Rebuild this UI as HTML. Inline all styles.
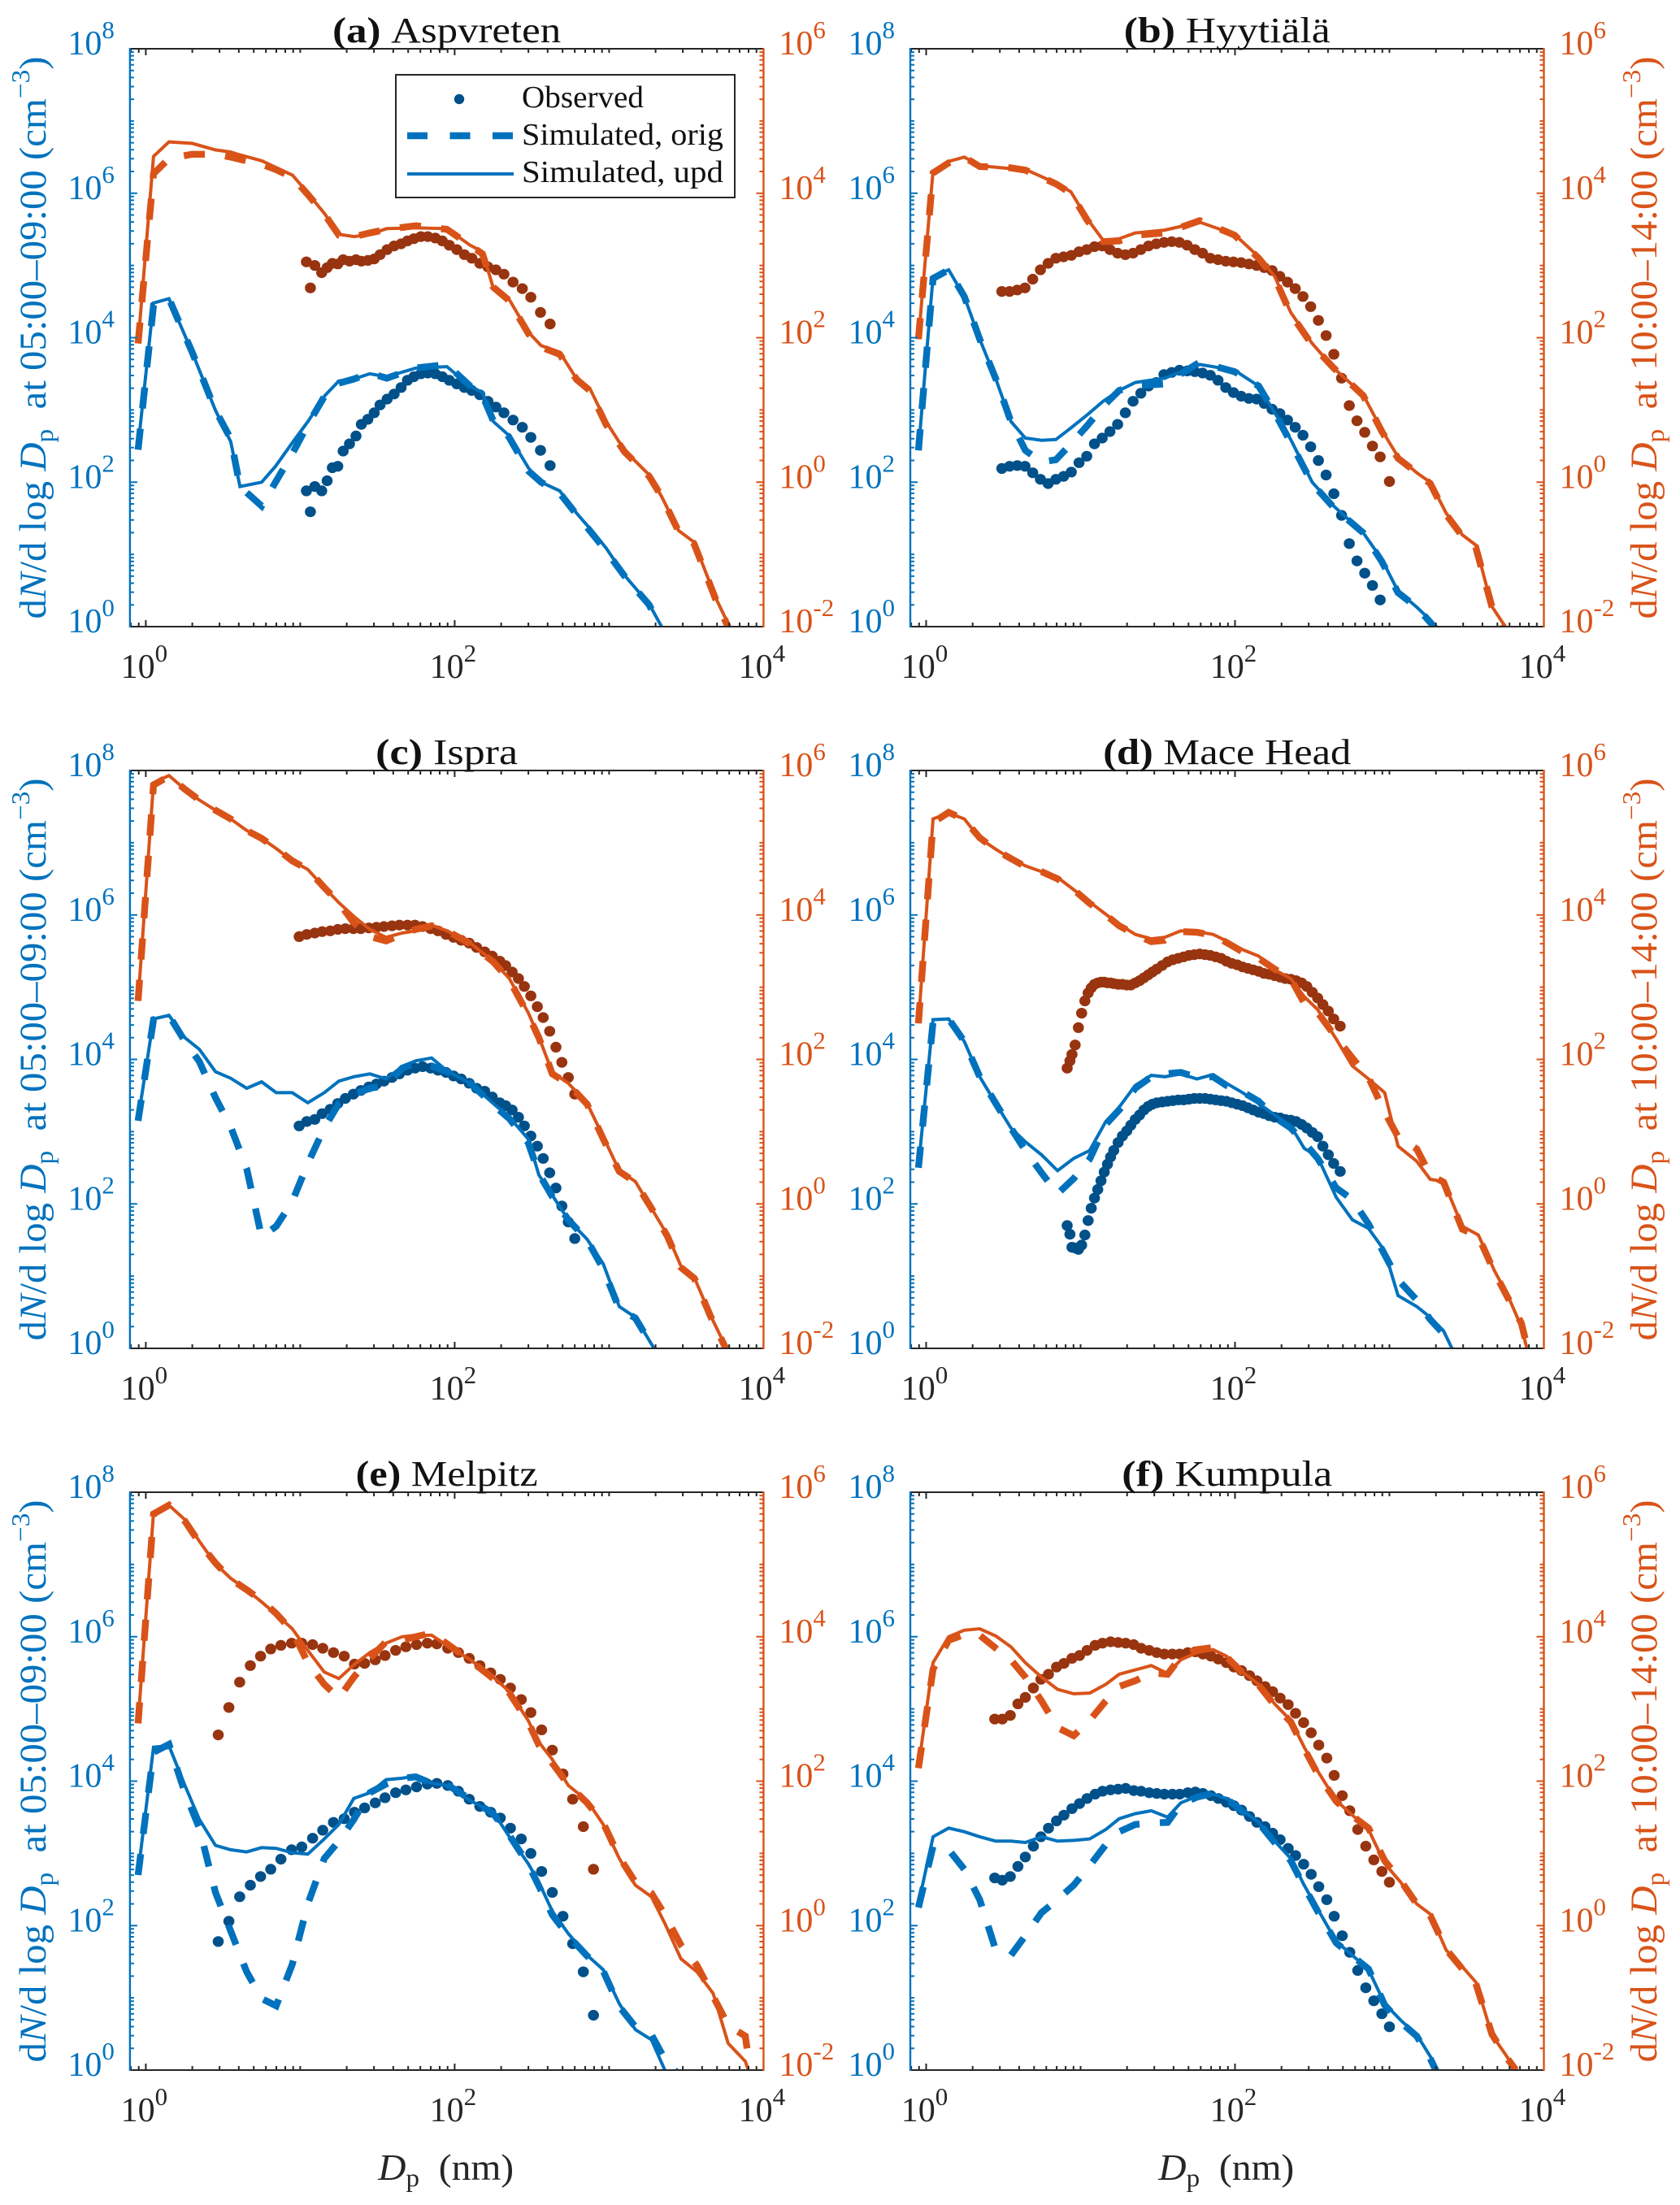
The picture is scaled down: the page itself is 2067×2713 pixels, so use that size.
<!DOCTYPE html>
<html lang="en">
<head>
<meta charset="utf-8">
<title>Particle number size distributions at six sites</title>
<style>
html,body{margin:0;padding:0;background:#fff;}
svg{display:block;}
text{font-family:"Liberation Serif",serif;}
</style>
</head>
<body>
<svg id="chart" xmlns="http://www.w3.org/2000/svg" width="2067" height="2713" viewBox="0 0 2067 2713"><rect width="2067" height="2713" fill="#fff"/></svg>
<script>
/* All series values are log10 of the plotted quantity. Blue series use the left axis, orange the right axis. */
const xTickExponents = [0, 2, 4];
const leftTickExponents = [0, 2, 4, 6, 8];
const rightTickExponents = [-2, 0, 2, 4, 6];
const minorMultipliers = [2, 3, 4, 5, 6, 7, 8, 9];

/* (a) Aspvreten */
const aSimLogDp = [-0.05,0.05,0.15,0.3,0.45,0.55,0.61,0.75,0.84,0.95,1.05,1.16,1.25,1.35,1.45,1.56,1.75,1.95,2.1,2.18,2.25,2.35,2.48,2.56,2.68,2.79,2.875,2.98,3.1,3.26,3.34,3.45,3.55,3.69,3.78];
const aBlueUpd = [2.5,4.48,4.54,3.8,3.0,2.56,1.94,2.0,2.22,2.55,2.84,3.2,3.4,3.43,3.5,3.46,3.58,3.6,3.33,3.24,2.84,2.65,2.19,2.0,1.88,1.57,1.36,1.09,0.71,0.31,0,-0.5,null,null,null];
const aBlueOrig = [2.45,4.45,4.54,3.8,3.0,2.6,1.94,1.67,2.0,2.4,2.8,3.2,3.37,3.43,3.51,3.44,3.58,3.63,3.33,3.2,2.85,2.63,2.15,2.0,1.85,1.55,1.33,1.05,0.7,0.3,-0.05,-0.5,null,null,null];
const aOrangeUpd = [1.92,4.51,4.71,4.69,4.6,4.57,4.53,4.45,4.36,4.25,4.0,3.71,3.43,3.4,3.43,3.51,3.52,3.51,3.28,3.19,2.69,2.54,2.07,1.89,1.8,1.43,1.3,0.84,0.44,0.1,-0.2,-0.67,-0.83,-1.6,-2];
const aOrangeOrig = [1.92,4.27,4.48,4.54,4.54,4.5,4.47,4.4,4.33,4.22,3.98,3.7,3.42,3.4,3.45,3.5,3.55,3.5,3.28,3.16,2.7,2.52,2.05,1.87,1.77,1.42,1.27,0.8,0.42,0.08,-0.2,-0.68,-0.85,-1.62,-2.05];
const aObsLogDp = [1.04,1.066,1.094,1.139,1.174,1.208,1.243,1.278,1.319,1.361,1.396,1.438,1.479,1.517,1.5625,1.608,1.653,1.694,1.736,1.781,1.826,1.875,1.92,1.965,2.014,2.063,2.111,2.163,2.215,2.267,2.319,2.378,2.438,2.493,2.556,2.618];
const aObsBlue = [1.88,1.59,1.94,1.88,2.02,2.2,2.22,2.43,2.53,2.64,2.8,2.87,2.96,3.07,3.15,3.22,3.31,3.41,3.46,3.5,3.51,3.5,3.46,3.41,3.36,3.31,3.27,3.21,3.12,3.04,2.96,2.86,2.76,2.62,2.44,2.23];
const aObsOrange = [3.05,2.69,3.0,2.9,2.97,3.03,3.02,3.08,3.06,3.08,3.06,3.07,3.09,3.15,3.22,3.27,3.3,3.34,3.37,3.4,3.4,3.38,3.34,3.28,3.22,3.15,3.1,3.03,2.98,2.94,2.88,2.77,2.68,2.56,2.35,2.19];

/* (b) Hyytiala */
const bSimLogDp = [-0.05,0.045,0.146,0.247,0.347,0.451,0.549,0.642,0.747,0.84,0.9375,1.042,1.146,1.25,1.354,1.545,1.771,1.997,2.153,2.257,2.361,2.5,2.639,2.83,2.951,3.056,3.177,3.264,3.368,3.472,3.559,3.663,3.75];
const bBlueUpd = [2.44,4.85,4.94,4.57,3.98,3.43,2.84,2.61,2.58,2.59,2.75,2.93,3.12,3.27,3.38,3.44,3.63,3.55,3.33,2.96,2.59,2.0,1.67,1.3,0.93,0.49,0.27,0.09,-0.2,null,null,null,null];
const bBlueOrig = [2.44,4.82,4.94,4.57,3.98,3.43,2.84,2.44,2.28,2.31,2.53,2.78,3.05,3.27,3.34,3.36,3.66,3.53,3.33,2.96,2.55,1.98,1.65,1.3,0.9,0.47,0.27,0.06,-0.2,null,null,null,null];
const bOrangeUpd = [1.98,4.31,4.44,4.5,4.38,4.36,4.34,4.33,4.23,4.14,4.02,3.65,3.35,3.37,3.45,3.49,3.6,3.43,3.12,2.85,2.35,1.92,1.58,1.21,0.72,0.35,0.13,0,-0.43,-0.73,-0.87,-1.72,-2];
const bOrangeOrig = [1.98,4.28,4.42,4.5,4.37,4.36,4.35,4.32,4.22,4.13,4.0,3.63,3.33,3.34,3.42,3.45,3.62,3.42,3.1,2.83,2.33,1.9,1.58,1.2,0.7,0.33,0.13,-0.02,-0.45,-0.75,-0.9,-1.72,-2.05];
const bObsLogDp = [0.49,0.54,0.59,0.64,0.69,0.74,0.79,0.84,0.89,0.94,0.99,1.04,1.09,1.14,1.19,1.24,1.29,1.34,1.39,1.44,1.49,1.54,1.59,1.64,1.69,1.74,1.79,1.84,1.89,1.94,1.99,2.04,2.09,2.14,2.19,2.24,2.29,2.34,2.39,2.44,2.49,2.54,2.59,2.64,2.69,2.74,2.79,2.84,2.89,2.94,3.0];
const bObsBlue = [2.19,2.22,2.23,2.22,2.13,2.04,1.98,2.04,2.08,2.14,2.27,2.36,2.53,2.61,2.7,2.8,2.96,3.12,3.23,3.33,3.38,3.49,3.52,3.55,3.54,3.53,3.51,3.48,3.41,3.31,3.24,3.19,3.16,3.15,3.09,3.01,2.95,2.86,2.76,2.65,2.49,2.3,2.1,1.84,1.54,1.15,0.91,0.74,0.57,0.37,null];
const bObsOrange = [2.64,2.64,2.66,2.69,2.81,2.94,3.03,3.1,3.12,3.14,3.19,3.22,3.26,3.27,3.22,3.17,3.15,3.17,3.22,3.27,3.3,3.32,3.33,3.32,3.28,3.22,3.17,3.1,3.08,3.06,3.05,3.04,3.02,3.0,2.97,2.93,2.85,2.77,2.68,2.57,2.43,2.24,2.03,1.77,1.44,1.06,0.85,0.69,0.5,0.35,0.01];

/* (c) Ispra */
const cSimLogDp = [-0.05,0.05,0.15,0.253,0.347,0.451,0.549,0.653,0.75,0.844,0.948,1.049,1.156,1.25,1.347,1.451,1.556,1.66,1.747,1.851,1.951,2.101,2.25,2.354,2.476,2.545,2.632,2.736,2.858,2.962,3.066,3.17,3.274,3.378,3.465,3.552,3.656,3.76];
const cBlueUpd = [3.17,4.56,4.61,4.3,4.14,3.83,3.74,3.6,3.69,3.54,3.54,3.4,3.54,3.7,3.76,3.8,3.73,3.9,3.98,4.02,3.84,3.67,3.39,3.2,2.9,2.4,2.12,1.78,1.51,1.17,0.58,0.43,0.06,-0.3,null,null,null,null];
const cBlueOrig = [3.15,4.55,4.61,4.25,3.97,3.47,3.07,2.49,1.54,1.69,2.03,2.56,3.05,3.39,3.52,3.6,3.64,3.88,3.95,3.91,3.83,3.67,3.37,3.18,2.85,2.42,2.1,1.78,1.5,1.1,0.55,0.42,0.05,-0.3,null,null,null,null];
const cOrangeUpd = [2.81,5.83,5.93,5.74,5.59,5.45,5.33,5.17,5.06,4.92,4.75,4.63,4.38,4.17,3.98,3.8,3.69,3.75,3.78,3.86,3.78,3.61,3.36,3.12,2.65,2.31,1.82,1.67,1.39,0.93,0.46,0.31,-0.06,-0.43,-0.86,-1.02,-1.54,-2];
const cOrangeOrig = [2.81,5.8,5.92,5.74,5.59,5.45,5.33,5.17,5.06,4.92,4.75,4.63,4.38,4.17,3.89,3.7,3.64,3.73,3.8,3.85,3.78,3.6,3.35,3.1,2.62,2.3,1.8,1.66,1.38,0.9,0.45,0.3,-0.06,-0.45,-0.88,-1.03,-1.55,-2.02];
const cObsLogDp = [0.993,1.042,1.094,1.142,1.194,1.243,1.292,1.344,1.392,1.444,1.493,1.542,1.594,1.642,1.694,1.743,1.792,1.844,1.892,1.944,1.993,2.042,2.094,2.142,2.194,2.243,2.292,2.33,2.372,2.413,2.451,2.493,2.535,2.573,2.615,2.656,2.694,2.736,2.778];
const cObsBlue = [3.08,3.14,3.17,3.25,3.31,3.39,3.46,3.52,3.57,3.62,3.66,3.7,3.75,3.8,3.85,3.88,3.9,3.88,3.85,3.82,3.77,3.73,3.67,3.6,3.56,3.48,3.4,3.36,3.3,3.2,3.08,2.94,2.8,2.63,2.43,2.22,1.97,1.75,1.52];
const cObsOrange = [3.7,3.73,3.75,3.77,3.78,3.8,3.81,3.81,3.81,3.82,3.83,3.84,3.85,3.86,3.86,3.86,3.84,3.81,3.78,3.73,3.69,3.65,3.61,3.55,3.49,3.43,3.36,3.3,3.21,3.12,3.01,2.88,2.73,2.58,2.39,2.17,1.96,1.75,1.52];

/* (d) Mace Head */
const dSimLogDp = [-0.05,0.045,0.146,0.247,0.347,0.451,0.549,0.642,0.747,0.851,0.955,1.059,1.163,1.25,1.354,1.458,1.545,1.649,1.753,1.858,1.944,2.049,2.153,2.257,2.361,2.448,2.535,2.656,2.76,2.865,2.969,3.056,3.177,3.264,3.351,3.472,3.576,3.681,3.767,3.854,3.906];
const dBlueUpd = [2.52,4.55,4.56,4.25,3.76,3.39,3.05,2.86,2.68,2.46,2.63,2.74,3.14,3.34,3.64,3.78,3.76,3.8,3.73,3.79,3.67,3.54,3.39,3.23,3.08,2.77,2.65,2.09,1.78,1.66,1.35,0.73,0.58,0.43,0.24,-0.3,null,null,null,null,null];
const dBlueOrig = [2.5,4.52,4.56,4.25,3.76,3.39,3.05,2.74,2.43,2.14,2.35,2.62,3.1,3.3,3.6,3.76,3.8,3.82,3.75,3.76,3.64,3.55,3.42,3.2,3.05,2.85,2.63,2.22,2.06,1.72,1.3,0.95,0.67,0.4,0.2,-0.3,null,null,null,null,null];
const dOrangeUpd = [2.5,5.33,5.41,5.33,5.06,4.91,4.78,4.68,4.6,4.52,4.35,4.18,4.01,3.87,3.73,3.67,3.69,3.78,3.77,3.73,3.64,3.52,3.43,3.24,3.12,2.87,2.69,2.28,1.91,1.73,1.54,0.8,0.59,0.34,0.31,-0.31,-0.43,-0.93,-1.27,-1.7,-2.13];
const dOrangeOrig = [2.5,5.28,5.42,5.32,5.07,4.9,4.78,4.67,4.6,4.5,4.35,4.16,4.0,3.85,3.73,3.63,3.65,3.77,3.76,3.72,3.62,3.49,3.4,3.25,3.12,2.78,2.65,2.3,2.02,1.75,1.27,0.93,0.76,0.4,0.3,-0.35,-0.45,-0.95,-1.3,-1.65,-2.1];
const dObsLogDp = [0.913,0.931,0.944,0.965,0.986,1.007,1.028,1.049,1.069,1.09,1.111,1.132,1.153,1.174,1.194,1.215,1.243,1.271,1.299,1.326,1.354,1.382,1.41,1.438,1.465,1.493,1.528,1.563,1.597,1.632,1.667,1.701,1.736,1.771,1.806,1.84,1.875,1.91,1.944,1.979,2.014,2.049,2.083,2.118,2.153,2.188,2.222,2.257,2.292,2.326,2.361,2.396,2.431,2.465,2.5,2.535,2.569,2.604,2.639,2.681];
const dObsBlue = [1.7,1.58,1.4,1.39,1.37,1.43,1.57,1.77,1.94,2.08,2.2,2.32,2.44,2.55,2.65,2.74,2.85,2.94,3.01,3.09,3.17,3.23,3.3,3.35,3.38,3.4,3.41,3.42,3.43,3.44,3.44,3.45,3.46,3.46,3.46,3.45,3.44,3.43,3.42,3.4,3.38,3.36,3.33,3.3,3.27,3.25,3.22,3.2,3.19,3.17,3.16,3.14,3.1,3.05,2.99,2.93,2.8,2.68,2.56,2.45];
const dObsOrange = [1.88,1.98,2.07,2.2,2.44,2.64,2.81,2.92,2.99,3.04,3.06,3.07,3.07,3.06,3.06,3.05,3.04,3.04,3.03,3.03,3.06,3.09,3.13,3.17,3.21,3.25,3.3,3.35,3.38,3.4,3.42,3.44,3.45,3.46,3.45,3.44,3.42,3.4,3.36,3.33,3.31,3.28,3.26,3.24,3.22,3.19,3.18,3.16,3.14,3.12,3.11,3.09,3.06,3.01,2.93,2.85,2.76,2.67,2.56,2.46];

/* (e) Melpitz */
const eSimLogDp = [-0.05,0.05,0.15,0.253,0.347,0.451,0.549,0.653,0.75,0.844,0.948,1.049,1.156,1.25,1.347,1.451,1.556,1.66,1.747,1.851,1.951,2.101,2.25,2.354,2.476,2.545,2.632,2.736,2.858,2.962,3.066,3.17,3.274,3.361,3.465,3.569,3.674,3.771,3.882,3.91];
const eBlueUpd = [2.73,4.47,4.49,3.94,3.47,3.11,3.05,3.02,3.08,3.07,3.01,2.99,3.2,3.4,3.76,3.84,4.02,4.04,4.07,3.97,3.94,3.73,3.57,3.23,2.86,2.6,2.2,1.89,1.59,1.39,0.92,0.56,0.42,0,-0.5,null,null,null,null,null];
const eBlueOrig = [2.7,4.4,4.51,3.84,3.35,2.46,1.93,1.36,0.99,0.89,1.46,2.3,2.93,3.17,3.47,3.84,3.96,4.04,4.06,3.97,3.95,3.75,3.55,3.25,2.85,2.55,2.15,1.86,1.58,1.37,0.88,0.6,0.49,0.15,-0.1,null,null,null,null,null];
const eOrangeUpd = [2.81,5.72,5.82,5.62,5.32,5.01,4.81,4.65,4.48,4.31,4.11,3.81,3.51,3.42,3.61,3.78,3.91,4.0,4.02,4.02,3.88,3.68,3.44,3.24,2.84,2.54,2.3,1.94,1.73,1.4,0.93,0.56,0.4,0.03,-0.46,-0.64,-0.94,-1.63,-1.88,-2.05];
const eOrangeOrig = [2.8,5.7,5.82,5.6,5.3,5.02,4.8,4.65,4.5,4.32,4.08,3.64,3.34,3.15,3.44,3.7,3.93,3.95,4.0,4.05,3.9,3.67,3.42,3.22,2.82,2.5,2.25,1.95,1.7,1.42,0.95,0.6,0.45,0.15,-0.27,-0.55,-0.98,-1.38,-1.53,-1.95];
const eObsLogDp = [0.469,0.538,0.608,0.677,0.743,0.809,0.875,0.944,1.01,1.08,1.146,1.215,1.285,1.351,1.417,1.486,1.549,1.618,1.684,1.753,1.823,1.885,1.955,2.024,2.094,2.163,2.233,2.295,2.361,2.431,2.493,2.563,2.632,2.701,2.764,2.833,2.899];
const eObsBlue = [1.78,2.06,2.4,2.56,2.68,2.78,2.92,3.05,3.09,3.21,3.32,3.43,3.48,3.57,3.63,3.7,3.77,3.84,3.88,3.92,3.96,3.97,3.94,3.86,3.75,3.65,3.57,3.49,3.35,3.2,3.0,2.75,2.46,2.13,1.75,1.36,0.76];
const eObsOrange = [2.64,3.02,3.37,3.6,3.73,3.83,3.88,3.91,3.91,3.89,3.84,3.78,3.73,3.62,3.63,3.68,3.74,3.81,3.86,3.89,3.91,3.9,3.84,3.78,3.7,3.6,3.5,3.41,3.29,3.13,2.95,2.71,2.43,2.1,1.75,1.37,0.78];

/* (f) Kumpula */
const fSimLogDp = [-0.05,0.045,0.146,0.247,0.347,0.451,0.549,0.642,0.747,0.851,0.955,1.059,1.163,1.25,1.354,1.458,1.563,1.649,1.753,1.858,1.944,2.049,2.153,2.257,2.361,2.448,2.535,2.656,2.76,2.865,2.969,3.073,3.177,3.264,3.368,3.472,3.559,3.663,3.75,3.819];
const fBlueUpd = [2.3,3.23,3.35,3.3,3.23,3.17,3.17,3.15,3.23,3.17,3.18,3.2,3.33,3.48,3.55,3.59,3.5,3.7,3.79,3.82,3.76,3.6,3.43,3.17,2.93,2.56,2.23,1.78,1.59,1.39,0.92,0.69,0.49,0.19,-0.3,null,null,null,null,null];
const fBlueOrig = [2.25,3.1,3.05,2.78,2.36,1.66,1.59,1.86,2.18,2.36,2.56,2.83,3.12,3.3,3.4,3.42,3.43,3.68,3.78,3.83,3.76,3.58,3.42,3.15,2.9,2.54,2.2,1.76,1.58,1.4,0.9,0.66,0.47,0.16,-0.3,null,null,null,null,null];
const fOrangeUpd = [2.2,3.64,4.0,4.09,4.11,4.01,3.86,3.64,3.44,3.27,3.21,3.22,3.34,3.48,3.54,3.6,3.49,3.68,3.78,3.82,3.73,3.51,3.34,3.07,2.84,2.47,2.14,1.73,1.53,1.33,0.86,0.6,0.3,0.16,-0.34,-0.57,-0.78,-1.51,-1.78,-2];
const fOrangeOrig = [2.18,3.55,3.95,4.03,4.02,3.84,3.68,3.44,3.11,2.74,2.63,2.84,3.11,3.31,3.39,3.5,3.48,3.72,3.82,3.85,3.72,3.5,3.33,3.05,2.82,2.45,2.1,1.72,1.52,1.35,0.9,0.62,0.3,0.14,-0.33,-0.6,-0.8,-1.5,-1.8,-2];
const fObsLogDp = [0.444,0.493,0.545,0.594,0.642,0.694,0.743,0.792,0.844,0.892,0.944,0.993,1.042,1.094,1.142,1.194,1.243,1.292,1.344,1.392,1.444,1.493,1.542,1.594,1.642,1.694,1.743,1.792,1.844,1.892,1.944,1.993,2.042,2.094,2.142,2.194,2.243,2.292,2.344,2.392,2.444,2.493,2.542,2.594,2.642,2.694,2.743,2.795,2.847,2.899,2.951,3.0];
const fObsBlue = [2.66,2.63,2.68,2.82,2.95,3.1,3.23,3.35,3.45,3.53,3.62,3.69,3.76,3.82,3.86,3.88,3.89,3.9,3.87,3.86,3.84,3.83,3.82,3.82,3.82,3.84,3.85,3.83,3.8,3.76,3.71,3.66,3.6,3.51,3.43,3.37,3.28,3.19,3.07,2.97,2.85,2.71,2.54,2.36,2.13,1.86,1.63,1.38,1.14,0.96,0.78,0.6];
const fObsOrange = [2.86,2.86,2.91,3.07,3.16,3.29,3.41,3.48,3.58,3.63,3.7,3.74,3.81,3.88,3.91,3.93,3.92,3.91,3.89,3.84,3.81,3.78,3.76,3.76,3.76,3.78,3.79,3.76,3.73,3.69,3.64,3.58,3.53,3.46,3.39,3.31,3.24,3.15,3.06,2.94,2.81,2.67,2.5,2.32,2.08,1.8,1.59,1.33,1.1,0.91,0.75,0.6];

const panels = [
  {id:'a', letter:'(a)', site:'Aspvreten', col:0, row:0, titleW:281, dp:aSimLogDp, bu:aBlueUpd, bo:aBlueOrig, ou:aOrangeUpd, oo:aOrangeOrig, odp:aObsLogDp, ob:aObsBlue, or:aObsOrange},
  {id:'b', letter:'(b)', site:'Hyytiälä', col:1, row:0, titleW:254, dp:bSimLogDp, bu:bBlueUpd, bo:bBlueOrig, ou:bOrangeUpd, oo:bOrangeOrig, odp:bObsLogDp, ob:bObsBlue, or:bObsOrange},
  {id:'c', letter:'(c)', site:'Ispra', col:0, row:1, titleW:175, dp:cSimLogDp, bu:cBlueUpd, bo:cBlueOrig, ou:cOrangeUpd, oo:cOrangeOrig, odp:cObsLogDp, ob:cObsBlue, or:cObsOrange},
  {id:'d', letter:'(d)', site:'Mace Head', col:1, row:1, titleW:305, dp:dSimLogDp, bu:dBlueUpd, bo:dBlueOrig, ou:dOrangeUpd, oo:dOrangeOrig, odp:dObsLogDp, ob:dObsBlue, or:dObsOrange},
  {id:'e', letter:'(e)', site:'Melpitz', col:0, row:2, titleW:224, dp:eSimLogDp, bu:eBlueUpd, bo:eBlueOrig, ou:eOrangeUpd, oo:eOrangeOrig, odp:eObsLogDp, ob:eObsBlue, or:eObsOrange},
  {id:'f', letter:'(f)', site:'Kumpula', col:1, row:2, titleW:259, dp:fSimLogDp, bu:fBlueUpd, bo:fBlueOrig, ou:fOrangeUpd, oo:fOrangeOrig, odp:fObsLogDp, ob:fObsBlue, or:fObsOrange}
];

const BLUE = '#0072BD', ORANGE = '#D95319', DARK = '#262626', OBS_BLUE = '#00508a', OBS_RED = '#98340f';
const colOrigin = [179.4, 1139.5];
const rowBottom = [771, 1659, 2547];
const DECADE_X = 190, DECADE_Y = 88.875, AX_W = 779.5, AX_H = 711;
const root = document.getElementById('chart');
const NS = 'http://www.w3.org/2000/svg';

function mk(parent, tag, attrs, html) {
  const el = document.createElementNS(NS, tag);
  for (const k in attrs) el.setAttribute(k, attrs[k]);
  if (html !== undefined) el.innerHTML = html;
  parent.appendChild(el);
  return el;
}
function pathFrom(xs, ys, fx, fy) {
  let d = '';
  for (let i = 0; i < xs.length; i++) {
    if (ys[i] === null || ys[i] === undefined) continue;
    d += (d ? 'L' : 'M') + fx(xs[i]).toFixed(1) + ' ' + fy(ys[i]).toFixed(1);
  }
  return d;
}

panels.forEach(function (p) {
  const x0 = colOrigin[p.col], bottom = rowBottom[p.row];
  const left = x0 - 19.5, right = left + AX_W, top = bottom - AX_H;
  const xOf = function (v) { return x0 + DECADE_X * v; };
  const yL = function (v) { return bottom - DECADE_Y * v; };
  const yR = function (v) { return bottom - DECADE_Y * (v + 2); };
  const midX = (left + right) / 2, midY = (top + bottom) / 2;

  const g = mk(root, 'g', {});
  
  

  const clip = mk(g, 'clipPath', {id: 'clip-' + p.id});
  mk(clip, 'rect', {x: left, y: top, width: AX_W, height: AX_H});
  const plot = mk(g, 'g', {'clip-path': 'url(#clip-' + p.id + ')'});
  
  

  function dots(vals, fy, color, name) {
    for (let i = 0; i < p.odp.length; i++) {
      if (vals[i] === null || vals[i] === undefined) continue;
      const c = mk(plot, 'ellipse', {cx: xOf(p.odp[i]).toFixed(1), cy: fy(vals[i]).toFixed(1), rx: 6.8, ry: 6.6, fill: color});
      
      
    }
  }
  function line(vals, fy, color, width, dash, name) {
    const attrs = {d: pathFrom(p.dp, vals, xOf, fy), fill: 'none', stroke: color, 'stroke-width': width, 'stroke-linejoin': 'miter', 'stroke-miterlimit': 3};
    if (dash) attrs['stroke-dasharray'] = dash;
    const l = mk(plot, 'path', attrs);
    
    
  }
  dots(p.ob, yL, OBS_BLUE, 'observed-morning-dot');
  line(p.bo, yL, BLUE, 8.4, '26 25', 'simulated-orig-morning-line');
  line(p.bu, yL, BLUE, 4, null, 'simulated-upd-morning-line');
  dots(p.or, yR, OBS_RED, 'observed-midday-dot');
  line(p.oo, yR, ORANGE, 8.4, '26 25', 'simulated-orig-midday-line');
  line(p.ou, yR, ORANGE, 4, null, 'simulated-upd-midday-line');

  /* ticks */
  let xd = '', lyd = '', ryd = '';
  for (let k = -1; k < 4; k++) {
    minorMultipliers.concat(k % 2 !== 0 && k >= 0 ? [1] : []).forEach(function (m) {
      const v = k + Math.log10(m);
      if (v < -0.1) return;
      const px = xOf(v).toFixed(1);
      xd += 'M' + px + ' ' + top + 'v5M' + px + ' ' + bottom + 'v-5';
    });
  }
  xTickExponents.forEach(function (e) {
    const px = xOf(e).toFixed(1);
    xd += 'M' + px + ' ' + top + 'v8M' + px + ' ' + bottom + 'v-8';
  });
  for (let k = 0; k < 8; k++) {
    minorMultipliers.concat(k % 2 === 1 ? [1] : []).forEach(function (m) {
      const py = yL(k + Math.log10(m)).toFixed(1);
      lyd += 'M' + left + ' ' + py + 'h5';
      ryd += 'M' + right + ' ' + py + 'h-5';
    });
  }
  leftTickExponents.forEach(function (e) {
    const py = yL(e).toFixed(1);
    lyd += 'M' + left + ' ' + py + 'h9';
  });
  rightTickExponents.forEach(function (e) {
    const py = yR(e).toFixed(1);
    ryd += 'M' + right + ' ' + py + 'h-9';
  });
  const xt = mk(g, 'path', {d: xd, stroke: DARK, 'stroke-width': 2, fill: 'none'});
  
  
  const lt = mk(g, 'path', {d: lyd, stroke: BLUE, 'stroke-width': 2, fill: 'none'});
  
  
  const rt = mk(g, 'path', {d: ryd, stroke: ORANGE, 'stroke-width': 2, fill: 'none'});
  
  

  /* axis lines */
  const axTop = mk(g, 'line', {x1: left, x2: right, y1: top, y2: top, stroke: DARK, 'stroke-width': 2});
  
  
  const axBottom = mk(g, 'line', {x1: left, x2: right, y1: bottom, y2: bottom, stroke: DARK, 'stroke-width': 2});
  
  
  const axLeft = mk(g, 'line', {x1: left, x2: left, y1: top - 1, y2: bottom + 1, stroke: BLUE, 'stroke-width': 2.4});
  
  
  const axRight = mk(g, 'line', {x1: right, x2: right, y1: top - 1, y2: bottom + 1, stroke: ORANGE, 'stroke-width': 2.4});
  
  

  /* tick labels */
  function powerLabel(x, y, e, anchor, color, name) {
    const t = mk(g, 'text', {x: x, y: y, 'font-size': 42, fill: color, 'text-anchor': anchor},
      '10<tspan dy="-20" font-size="31">' + e + '</tspan>');
    
    
  }
  xTickExponents.forEach(function (e) {
    powerLabel(xOf(e) - 2, bottom + 63, e, 'middle', DARK, 'x-tick-label');
  });
  leftTickExponents.forEach(function (e) {
    powerLabel(left - 19, yL(e) + 7, e, 'end', BLUE, 'left-y-tick-label');
  });
  rightTickExponents.forEach(function (e) {
    powerLabel(right + 19, yR(e) + 7, e, 'start', ORANGE, 'right-y-tick-label');
  });

  /* title */
  const title = mk(g, 'text', {x: midX, y: top - 8, 'font-size': 44, fill: '#111', 'text-anchor': 'middle', textLength: p.titleW, lengthAdjust: 'spacingAndGlyphs'},
    '<tspan font-weight="bold">' + p.letter + '</tspan>&#160;' + p.site);
  
  

  /* y labels */
  function yLabelMarkup(time) {
    return 'd<tspan font-style="italic">N</tspan>/d&#160;log&#160;<tspan font-style="italic">D</tspan><tspan dy="9" font-size="32">p</tspan><tspan dy="-9">&#160;&#160;at&#160;' + time + '&#160;(cm</tspan><tspan dy="-20" font-size="32">−3</tspan><tspan dy="20">)</tspan>';
  }
  if (p.col === 0) {
    const yl = mk(g, 'text', {transform: 'translate(56,' + midY + ') rotate(-90)', 'font-size': 47, fill: BLUE, 'text-anchor': 'middle', textLength: 692, lengthAdjust: 'spacingAndGlyphs'}, yLabelMarkup('05:00–09:00'));
    
    
  } else {
    const yr = mk(g, 'text', {transform: 'translate(2038,' + midY + ') rotate(-90)', 'font-size': 47, fill: ORANGE, 'text-anchor': 'middle', textLength: 692, lengthAdjust: 'spacingAndGlyphs'}, yLabelMarkup('10:00–14:00'));
    
    
  }

  /* x label */
  if (p.row === 2) {
    const xl = mk(g, 'text', {x: midX - 1, y: bottom + 135, 'font-size': 46, fill: DARK, 'text-anchor': 'middle', textLength: 167, lengthAdjust: 'spacingAndGlyphs'},
      '<tspan font-style="italic">D</tspan><tspan dy="8" font-size="32">p</tspan><tspan dy="-8">&#160;&#160;(nm)</tspan>');
    
    
  }

  /* legend */
  if (p.id === 'a') {
    const lg = mk(g, 'g', {});
    
    
    const box = mk(lg, 'rect', {x: 487, y: 92, width: 417, height: 151, fill: '#fff', stroke: DARK, 'stroke-width': 2});
    
    
    const ld = mk(lg, 'circle', {cx: 565, cy: 122, r: 6.2, fill: OBS_BLUE});
    
    
    const lo = mk(lg, 'line', {x1: 501, x2: 632, y1: 167, y2: 167, stroke: BLUE, 'stroke-width': 8.4, 'stroke-dasharray': '25 27.5'});
    
    
    const lu = mk(lg, 'line', {x1: 501, x2: 632, y1: 214, y2: 214, stroke: BLUE, 'stroke-width': 4});
    
    
    const t1 = mk(lg, 'text', {x: 642, y: 132, 'font-size': 38, fill: '#111', textLength: 150, lengthAdjust: 'spacingAndGlyphs'}, 'Observed');
    
    
    const t2 = mk(lg, 'text', {x: 642, y: 178, 'font-size': 38, fill: '#111', textLength: 248, lengthAdjust: 'spacingAndGlyphs'}, 'Simulated, orig');
    
    
    const t3 = mk(lg, 'text', {x: 642, y: 224, 'font-size': 38, fill: '#111', textLength: 248, lengthAdjust: 'spacingAndGlyphs'}, 'Simulated, upd');
    
    
  }
});
</script>
</body>
</html>
